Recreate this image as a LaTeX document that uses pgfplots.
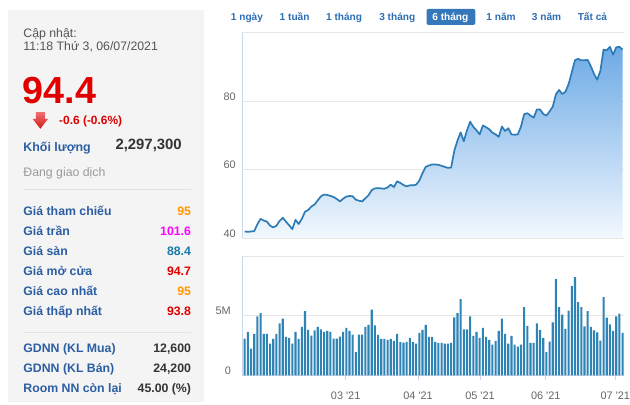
\documentclass[border=0pt]{standalone}
\usepackage{fontspec}
\setmainfont{Liberation Sans}
\usepackage{pgfplots}
\pgfplotsset{compat=1.18}
\usepackage{pgfplotstable}
\newcommand\fs[1]{\fontsize{#1}{#1}\selectfont}
\definecolor{panelbg}{HTML}{F4F4F4}
\definecolor{grayA}{HTML}{555555}
\definecolor{grayB}{HTML}{9A9A9A}
\definecolor{redv}{HTML}{E00000}
\definecolor{bluel}{HTML}{2C5EA3}
\definecolor{orangev}{HTML}{FF9900}
\definecolor{magv}{HTML}{FF00FF}
\definecolor{tealv}{HTML}{1A7BAA}
\definecolor{blackv}{HTML}{333333}
\definecolor{btntext}{HTML}{2D6EB5}
\definecolor{btnbox}{HTML}{3477BB}
\definecolor{tickgray}{HTML}{666666}
\definecolor{gridgray}{HTML}{E6E6E6}
\definecolor{axisblue}{HTML}{CCD6EB}
\definecolor{linecol}{HTML}{2C7BB6}
\definecolor{fillTop}{HTML}{6DAAE6}
\definecolor{fillBot}{HTML}{F2F8FE}
\definecolor{barcol}{HTML}{2F84B6}
\definecolor{sepcol}{HTML}{E2E2E2}
\definecolor{arrTop}{HTML}{F07070}
\definecolor{arrBot}{HTML}{D41818}

\pgfplotstableread{
k p
0 41.9
1 41.8
2 41.9
3 42.0
4 44.0
5 45.6
6 45.1
7 44.8
8 43.6
9 43.1
10 43.6
11 45.0
12 45.9
13 44.8
14 43.7
15 42.6
16 45.3
17 44.1
18 45.6
19 47.7
20 48.2
21 49.2
22 49.8
23 51.0
24 52.2
25 52.7
26 52.6
27 52.3
28 52.0
29 51.4
30 50.7
31 51.5
32 52.1
33 52.3
34 52.2
35 51.2
36 50.9
37 50.7
38 51.6
39 52.5
40 54.0
41 54.5
42 54.6
43 54.5
44 54.4
45 54.8
46 55.6
47 54.9
48 56.6
49 56.1
50 55.5
51 55.1
52 55.4
53 55.4
54 55.6
55 56.8
56 59.0
57 60.8
58 61.2
59 61.5
60 61.5
61 61.4
62 61.1
63 60.8
64 60.5
65 60.6
66 65.5
67 68.5
68 70.9
69 68.3
70 71.5
71 74.0
72 72.5
73 71.5
74 70.3
75 72.9
76 72.4
77 71.8
78 70.8
79 70.3
80 69.6
81 72.6
82 71.3
83 72.1
84 70.3
85 70.2
86 70.3
87 72.6
88 76.2
89 76.5
90 75.8
91 75.2
92 77.6
93 77.6
94 76.3
95 75.8
96 77.0
97 78.4
98 82.0
99 83.3
100 82.1
101 82.8
102 85.0
103 88.5
104 92.0
105 92.4
106 92.0
107 92.0
108 92.1
109 90.2
110 88.0
111 86.3
112 88.9
113 95.1
114 94.9
115 95.9
116 93.6
117 95.8
118 95.9
119 95.1
}\price

\pgfplotstableread{
k v
0 3.08
1 3.64
2 2.25
3 3.47
4 4.94
5 5.22
6 3.47
7 3.47
8 2.67
9 3.06
10 3.47
11 4.36
12 4.75
13 3.22
14 3.14
15 2.67
16 3.64
17 3.06
18 4.06
19 5.39
20 3.81
21 3.33
22 3.78
23 4.06
24 3.86
25 3.64
26 3.72
27 3.64
28 3.08
29 3.08
30 3.25
31 3.64
32 3.97
33 3.72
34 3.42
35 1.94
36 3.42
37 3.42
38 4.06
39 4.22
40 5.50
41 4.19
42 3.39
43 3.06
44 3.06
45 2.97
46 3.06
47 2.89
48 3.47
49 2.81
50 2.75
51 2.81
52 3.14
53 2.81
54 2.67
55 3.56
56 3.81
57 4.22
58 3.22
59 3.22
60 2.81
61 2.72
62 2.72
63 2.67
64 2.67
65 2.72
66 4.86
67 5.22
68 6.39
69 3.86
70 3.86
71 4.94
72 3.31
73 3.64
74 3.14
75 3.97
76 3.22
77 2.97
78 2.58
79 2.89
80 3.72
81 4.75
82 3.47
83 2.67
84 3.31
85 2.58
86 2.42
87 2.58
88 5.72
89 4.14
90 2.72
91 2.72
92 4.36
93 3.81
94 3.14
95 1.94
96 2.83
97 4.44
98 8.06
99 5.72
100 5.08
101 3.89
102 5.42
103 7.50
104 8.22
105 6.14
106 5.72
107 4.11
108 5.39
109 4.06
110 3.78
111 3.61
112 2.92
113 6.56
114 4.83
115 4.28
116 3.72
117 4.94
118 5.17
119 3.56
}\vol

\begin{document}
\begin{tikzpicture}[x=1bp,y=1bp]
\fill[white] (0,0) rectangle (630,406);
% left panel
\fill[panelbg] (8,2.7) rectangle (205,396);
\begin{scope}[every node/.style={inner sep=0pt}]
\node[anchor=base west, text=grayA, font=\fs{12.4}] at (23.3,368.5) {Cập nhật:};
\node[anchor=base west, text=grayA, font=\fs{12.4}] at (23.3,355) {11:18 Thứ 3, 06/07/2021};
\node[anchor=base west, text=redv, font=\fs{38}\bfseries] at (22.5,301.7) {94.4};
\shade[top color=arrTop, bottom color=arrBot] (36,293.3) -- (45,293.3) -- (45,286.7) -- (48.3,286.7) -- (40.5,276.7) -- (32.7,286.7) -- (36,286.7) -- cycle;
\node[anchor=base west, text=redv, font=\fs{12}\bfseries] at (59.3,280.5) {-0.6 (-0.6\%)};
\node[anchor=base west, text=bluel, font=\fs{12.5}\bfseries] at (23.3,254.3) {Khối lượng};
\node[anchor=base east, text=blackv, font=\fs{15}\bfseries] at (182.7,256) {2,297,300};
\node[anchor=base west, text=grayB, font=\fs{12.4}] at (23.3,228.7) {Đang giao dịch};
\draw[sepcol, line width=0.8bp] (23,216) -- (192,216);
\foreach \lab/\val/\col/\yy in {Giá tham chiếu/95/orangev/190, Giá trần/101.6/magv/169.8, Giá sàn/88.4/tealv/149.5, Giá mở cửa/94.7/redv/129.3, Giá cao nhất/95/orangev/109.2, Giá thấp nhất/93.8/redv/89}{
  \node[anchor=base west, text=bluel, font=\fs{12.4}\bfseries] at (23.3,\yy) {\lab};
  \node[anchor=base east, text=\col, font=\fs{12.4}\bfseries] at (192,\yy) {\val};
}
\draw[sepcol, line width=0.8bp] (23,72.7) -- (192,72.7);
\node[anchor=base west, text=bluel, font=\fs{12.4}\bfseries] at (23.3,52) {GDNN (KL Mua)};
\node[anchor=base east, text=blackv, font=\fs{12.4}\bfseries] at (192,52) {12,600};
\node[anchor=base west, text=bluel, font=\fs{12.4}\bfseries] at (23.3,32) {GDNN (KL Bán)};
\node[anchor=base east, text=blackv, font=\fs{12.4}\bfseries] at (192,32) {24,200};
\node[anchor=base west, text=bluel, font=\fs{12.4}\bfseries] at (23.3,12) {Room NN còn lại};
\node[anchor=base east, text=blackv, font=\fs{12.4}\bfseries] at (192,12) {45.00 (\%)};
% range buttons
\fill[btnbox, rounded corners=2bp] (428.3,381) rectangle (477.3,397);
\foreach \bx/\bl in {231.7/1 ngày, 280.7/1 tuần, 327.3/1 tháng, 380.7/3 tháng, 488.3/1 năm, 534/3 năm, 580/Tất cả}{
  \node[anchor=base west, text=btntext, font=\fs{10.2}\bfseries] at (\bx,385.3) {\bl};
}
\node[anchor=base west, text=white, font=\fs{10.2}\bfseries] at (434,385.3) {6 tháng};
\end{scope}

% price chart
\begin{axis}[at={(243bp,167bp)}, anchor=south west, scale only axis,
  width=383.5bp, height=206bp,
  xmin=-0.85, xmax=119.4, ymin=40, ymax=100,
  axis x line=none, axis y line*=left,
  axis line style={draw=axisblue, line width=0.8bp},
  ytick={40,60,80,100}, yticklabels={40,60,80,{}},
  ymajorgrids, grid style={draw=gridgray, line width=0.8bp},
  ytick style={draw=none}, xtick=\empty,
  yticklabel style={anchor=base east, inner sep=0pt, xshift=-6bp, yshift=1bp, font=\fs{11}, text=tickgray}]
\addplot[draw=none, top color=fillTop, bottom color=fillBot] table[x=k,y=p]{\price} -- (axis cs:119,40) -- (axis cs:0,40) -- cycle;
\addplot[linecol, line width=1.7bp, line join=round, no marks] table[x=k,y=p]{\price};
\end{axis}

% volume chart
\begin{axis}[at={(243bp,29bp)}, anchor=south west, scale only axis,
  width=383.5bp, height=120bp,
  xmin=-0.85, xmax=119.4, ymin=0, ymax=10,
  axis x line*=bottom, axis y line*=left,
  axis line style={draw=axisblue, line width=0.8bp},
  ytick={0,5,10}, yticklabels={0,5M,{}},
  ymajorgrids, grid style={draw=gridgray, line width=0.8bp},
  ytick style={draw=none},
  xtick={31.8,54.6,74.1,94.8,116.7},
  xticklabels={03 \textquotesingle21, 04 \textquotesingle21, 05 \textquotesingle21, 06 \textquotesingle21, 07 \textquotesingle21},
  xtick style={draw=axisblue, line width=0.8bp},
  tick align=outside, major tick length=5bp,
  xticklabel style={anchor=base, inner sep=0pt, yshift=-18.7bp, font=\fs{11}, text=tickgray},
  yticklabel style={anchor=base east, inner sep=0pt, xshift=-6bp, yshift=1bp, font=\fs{11}, text=tickgray}]
\addplot[ybar, bar width=2.1bp, fill=barcol, draw=none] table[x=k,y=v]{\vol};
\end{axis}
\end{tikzpicture}
\end{document}
